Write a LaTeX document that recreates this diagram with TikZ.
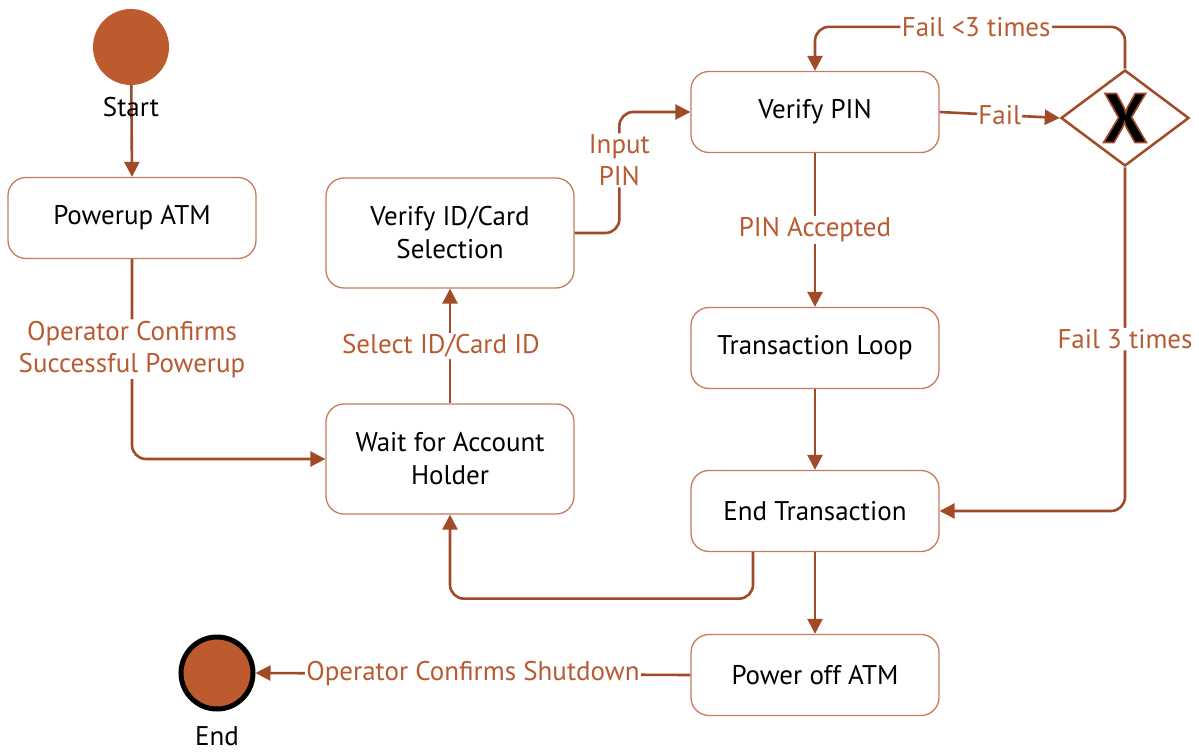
\documentclass[tikz,border=0pt]{standalone}
\usepackage{fontspec}
\setmainfont{PT Sans}
\usetikzlibrary{arrows.meta,shapes.geometric}
\definecolor{fillor}{HTML}{BD5A2E}
\definecolor{edgec}{HTML}{A04A28}
\definecolor{labc}{HTML}{B85A32}
\definecolor{boxc}{HTML}{C47C5C}
\newcommand{\outlinedX}{\special{pdf:literal direct q 2 Tr 1.6 w 0.63 0.29 0.16 RG}X\special{pdf:literal direct Q}}
\begin{document}
\begin{tikzpicture}[x=1pt,y=-1pt,
  state/.style={draw=boxc,line width=1.3pt,rounded corners=18pt,minimum width=248pt,minimum height=81pt,
    font=\fontsize{27}{33}\selectfont,align=center,fill=white,inner sep=2pt},
  conn/.style={draw=edgec,line width=2.6pt,rounded corners=14pt,-{Triangle[length=15pt,width=15pt]}},
  lab/.style={fill=white,text=labc,font=\fontsize{27}{32}\selectfont,inner sep=1.5pt,align=center},
  plain/.style={font=\fontsize{27}{32}\selectfont,inner sep=1pt}]
\useasboundingbox (0,0) rectangle (1199,752);
% nodes
\node[circle,fill=fillor,minimum size=76pt,inner sep=0pt] (start) at (131,47) {};
\node[state] (powerup) at (132,218) {Powerup ATM};
\node[state,minimum height=110pt] (vid) at (450,233) {Verify ID/Card\\Selection};
\node[state,minimum height=110pt] (wait) at (450,459) {Wait for Account\\Holder};
\node[state] (vpin) at (815,112) {Verify PIN};
\node[state] (tloop) at (815,348) {Transaction Loop};
\node[state] (etr) at (815,511) {End Transaction};
\node[state] (poff) at (815,675) {Power off ATM};
\node[circle,fill=fillor,draw=black,line width=5pt,minimum size=72pt,inner sep=0pt] (end) at (217,673) {};
\node[diamond,draw=edgec,line width=2.5pt,minimum width=128pt,minimum height=96pt,aspect=1.33,inner sep=0pt,
  font=\bfseries\fontsize{70}{70}\selectfont] (dia) at (1125,118) {\outlinedX};
% connectors
\draw[conn] (start) -- (powerup.north);
\node[plain] (startl) at (131,107) {Start};
\node[plain] (endl) at (217,736) {End};
\draw[conn] (powerup.south) |- (wait.west)
  node[lab,pos=0.225] {Operator Confirms\\Successful Powerup};
\draw[conn] (wait.north) -- (vid.south) node[lab,midway,xshift=-9pt] {Select ID/Card ID};
\draw[conn] (vid.east) -| ([xshift=-71pt]vpin.west) node[lab,pos=0.8] {Input\\PIN} -- (vpin.west);
\draw[conn] (vpin.east) -- (dia.west) node[lab,midway] {Fail};
\draw[conn] (dia.north) |- ([yshift=44pt]vpin.north) node[lab,pos=0.74] {Fail <3 times} -- (vpin.north);
\draw[conn] (dia.south) |- (etr.east) node[lab,pos=0.25] {Fail 3 times};
\draw[conn] (vpin.south) -- (tloop.north) node[lab,midway] {PIN Accepted};
\draw[conn] (tloop.south) -- (etr.north);
\draw[conn] ([xshift=-62pt]etr.south) |- ([yshift=-84pt]wait.south) -- (wait.south);
\draw[conn] (etr.south) -- (poff.north);
\draw[conn] (poff.west) -- (end.east) node[lab,midway] {Operator Confirms Shutdown};
\end{tikzpicture}
\end{document}
